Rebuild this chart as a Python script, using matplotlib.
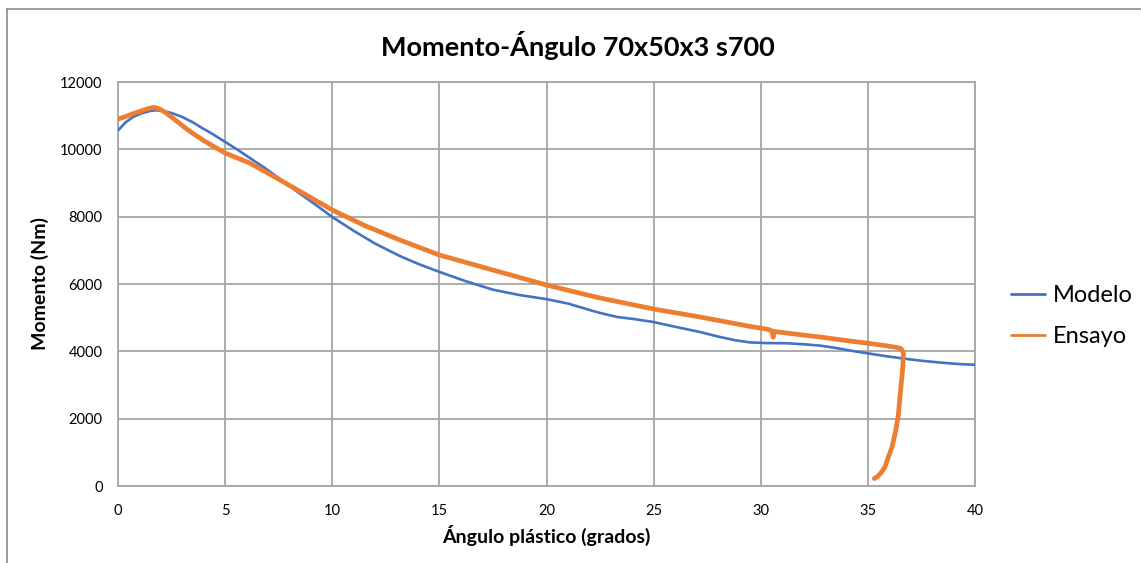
import matplotlib
matplotlib.use("Agg")
import matplotlib.pyplot as plt
from matplotlib.lines import Line2D

plt.rcParams['font.family'] = ['Lato', 'DejaVu Sans']

# Modelo (numerical model)
modelo_x = [0.0, 0.35, 0.7, 1.1, 1.5, 1.75, 2.1, 2.5, 3.0, 3.5, 3.83, 4.4, 5.0, 5.6, 6.16,
            6.8, 7.56, 8.5, 9.3, 10.0, 11.0, 12.0, 13.16, 14.0, 15.0, 16.2, 17.5, 18.76,
            20.0, 21.0, 22.0, 22.5, 23.3, 24.07, 25.0, 26.0, 27.16, 28.0, 28.8, 29.5,
            30.3, 31.2, 32.0, 32.77, 33.5, 34.3, 35.0, 35.8, 36.6, 37.5, 38.5, 39.3, 40.0]
modelo_y = [10560, 10800, 10960, 11070, 11140, 11160, 11140, 11080, 10960, 10800, 10670,
            10460, 10220, 9980, 9740, 9470, 9120, 8680, 8320, 7990, 7580, 7200, 6830,
            6600, 6360, 6090, 5830, 5670, 5550, 5420, 5230, 5140, 5020, 4960, 4870,
            4730, 4575, 4440, 4330, 4265, 4245, 4240, 4210, 4170, 4100, 4010, 3940,
            3860, 3790, 3720, 3660, 3620, 3600]

# Ensayo (test measurement)
ensayo_x = [0.0, 0.3, 0.7, 1.0, 1.3, 1.6, 1.75, 1.96, 2.2, 2.43, 2.8, 3.13, 3.5, 4.0, 4.4,
            5.0, 6.16, 7.56, 8.8, 10.0, 11.5, 13.16, 15.0, 17.5, 20.0, 22.5, 25.0, 27.16,
            28.5, 29.5, 30.3, 30.52, 30.58, 30.64, 31.5, 32.77, 34.0, 35.0, 35.8, 36.3,
            36.55, 36.66, 36.64, 36.6, 36.52, 36.42, 36.3, 36.13, 35.95, 35.8, 35.6,
            35.45, 35.3]
ensayo_y = [10900, 10960, 11060, 11120, 11190, 11240, 11240, 11190, 11100, 10990, 10810,
            10640, 10470, 10260, 10110, 9890, 9590, 9090, 8640, 8200, 7740, 7306, 6861,
            6415, 5970, 5584, 5257, 5020, 4860, 4740, 4660, 4610, 4420, 4590, 4520, 4425,
            4320, 4240, 4170, 4120, 4080, 3950, 3650, 3300, 2800, 2100, 1650, 1160,
            850, 565, 380, 280, 220]

x_ticks = [0, 5, 10, 15, 20, 25, 30, 35, 40]
y_ticks = [0, 2000, 4000, 6000, 8000, 10000, 12000]

W, H = 1141, 563
fig = plt.figure(figsize=(W / 100, H / 100), dpi=100)
ax = fig.add_axes([118 / W, 1 - 486 / H, (975 - 118) / W, (486 - 82) / H])

grid_c = '#a6a6a6'
ax.plot(modelo_x, modelo_y, color='#4472C4', lw=1.9, label='Modelo', zorder=3,
        solid_joinstyle='round', solid_capstyle='round')
ax.plot(ensayo_x, ensayo_y, color='#ED7D31', lw=3.4, label='Ensayo', zorder=4,
        solid_joinstyle='round', solid_capstyle='round')

ax.set_xlim(0, 40)
ax.set_ylim(0, 12000)
ax.set_xticks(x_ticks)
ax.set_yticks(y_ticks)
ax.set_xticklabels([str(v) for v in x_ticks])
ax.set_yticklabels([str(v) for v in y_ticks])
ax.grid(True, color=grid_c, lw=1.3)
ax.set_axisbelow(True)
for s in ax.spines.values():
    s.set_color(grid_c)
    s.set_linewidth(1.3)
ax.tick_params(length=0, labelsize=10.5, colors='#000000')
ax.tick_params(axis='y', pad=11)
ax.tick_params(axis='x', pad=13)

ax.set_xlabel('Ángulo plástico (grados)', fontsize=14, fontweight='bold', labelpad=5)
ax.set_ylabel('Momento (Nm)', fontsize=14, fontweight='bold', labelpad=8)

fig.text(578 / W, 1 - 45 / H, 'Momento-Ángulo 70x50x3 s700', ha='center', va='center',
         fontsize=19.5, fontweight='bold')

leg = ax.legend(loc='center left', bbox_to_anchor=(990 / W, 1 - 316 / H),
                bbox_transform=fig.transFigure, frameon=False, fontsize=17,
                handlelength=1.45, handletextpad=0.3, labelspacing=0.85)
for h in leg.get_lines():
    h.set_linewidth(2.0)

# chart-area frame
fig.add_artist(Line2D([7 / W, 7 / W], [0, 1 - 9 / H], color='#8c8c8c', lw=1.2))
fig.add_artist(Line2D([7 / W, 1], [1 - 9 / H, 1 - 9 / H], color='#8c8c8c', lw=1.2))

fig.savefig('out.png', dpi=100)
